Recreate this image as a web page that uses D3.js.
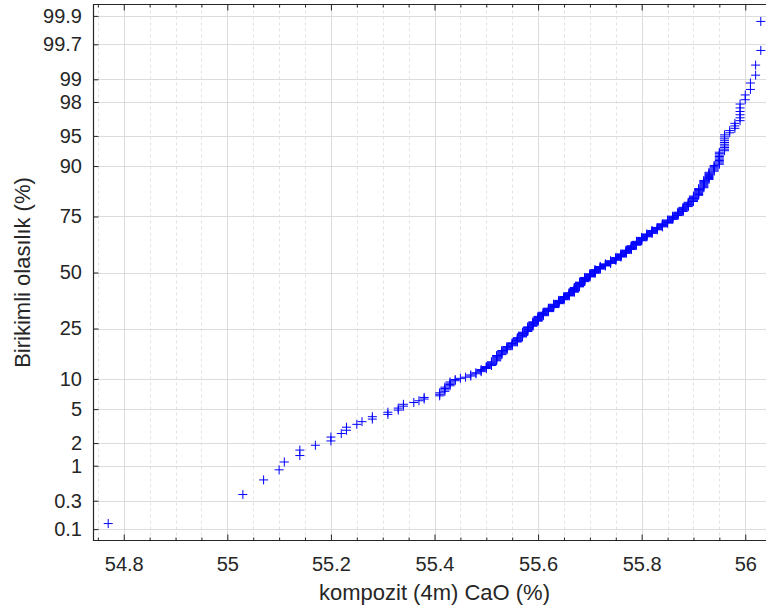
<!DOCTYPE html>
<html>
<head>
<meta charset="utf-8">
<script src="https://cdn.jsdelivr.net/npm/d3@7"></script>
<style>
  body { margin: 0; background: #fff; }
  svg { display: block; font-family: "Liberation Sans", Arial, Helvetica, sans-serif; }
</style>
</head>
<body>
<script>
// distinct CaO values (sorted) and how many samples have each value
var caoValues = [54.77, 55.03, 55.07, 55.10, 55.11, 55.14, 55.17, 55.20, 55.22, 55.23,
  55.25, 55.26, 55.28, 55.31, 55.33, 55.34, 55.36, 55.37, 55.38,
  55.41, 55.42, 55.43, 55.44, 55.45, 55.46, 55.47, 55.48, 55.49, 55.50,
  55.51, 55.52, 55.53, 55.54, 55.55, 55.56, 55.57, 55.58, 55.59, 55.60,
  55.61, 55.62, 55.63, 55.64, 55.65, 55.66, 55.67, 55.68, 55.69, 55.70,
  55.71, 55.72, 55.73, 55.74, 55.75, 55.76, 55.77, 55.78, 55.79, 55.80,
  55.81, 55.82, 55.83, 55.84, 55.85, 55.86, 55.87, 55.88, 55.89, 55.90,
  55.91, 55.92, 55.93, 55.94, 55.95, 55.96, 55.97, 55.98, 55.99, 56.00,
  56.01, 56.02, 56.03];
var caoCounts = [1, 1, 1, 1, 1, 2, 1, 2, 1, 2,
  1, 1, 2, 2, 2, 2, 1, 1, 2,
  3, 4, 4, 2, 1, 1, 2, 2, 3, 3,
  5, 7, 6, 5, 5, 7, 8, 8, 8, 9,
  7, 7, 7, 7, 7, 7, 10, 10, 9, 7,
  8, 6, 5, 6, 6, 7, 7, 8, 8, 7,
  6, 6, 5, 6, 6, 6, 6, 7, 7, 8,
  9, 9, 8, 6, 10, 10, 2, 3, 6, 2,
  2, 2, 2];

var xTickValues = [54.8, 55, 55.2, 55.4, 55.6, 55.8, 56];
var probTicks = [0.1, 0.3, 1, 2, 5, 10, 25, 50, 75, 90, 95, 98, 99, 99.7, 99.9];
var probLabels = ["0.1", "0.3", "1", "2", "5", "10", "25", "50", "75", "90", "95", "98", "99", "99.7", "99.9"];

var xLabel = "kompozit (4m) CaO (%)";
var yLabel = "Birikimli olasılık (%)";

var width = 766, height = 613;
var plotL = 93.5, plotT = 4.5, plotB = 540.5, plotR = 775.5;
var ink = "#262626";

// inverse normal cdf (Acklam)
function norminv(p) {
  var a = [-39.69683028665376, 220.9460984245205, -275.9285104469687, 138.3577518672690, -30.66479806614716, 2.506628277459239];
  var b = [-54.47609879822406, 161.5858368580409, -155.6989798598866, 66.80131188771972, -13.28068155288572];
  var c = [-0.007784894002430293, -0.3223964580411365, -2.400758277161838, -2.549732539343734, 4.374664141464968, 2.938163982698783];
  var d = [0.007784695709041462, 0.3224671290700398, 2.445134137142996, 3.754408661907416];
  var q, r;
  if (p < 0.02425) {
    q = Math.sqrt(-2 * Math.log(p));
    return (((((c[0]*q+c[1])*q+c[2])*q+c[3])*q+c[4])*q+c[5]) / ((((d[0]*q+d[1])*q+d[2])*q+d[3])*q+1);
  }
  if (p > 1 - 0.02425) {
    q = Math.sqrt(-2 * Math.log(1 - p));
    return -(((((c[0]*q+c[1])*q+c[2])*q+c[3])*q+c[4])*q+c[5]) / ((((d[0]*q+d[1])*q+d[2])*q+d[3])*q+1);
  }
  q = p - 0.5; r = q * q;
  return (((((a[0]*r+a[1])*r+a[2])*r+a[3])*r+a[4])*r+a[5])*q / (((((b[0]*r+b[1])*r+b[2])*r+b[3])*r+b[4])*r+1);
}

// expand to sorted sample and plotting positions
var sample = [];
caoValues.forEach(function(v, i) {
  for (var k = 0; k < caoCounts[i]; k++) sample.push(v);
});
var n = sample.length;
var points = sample.map(function(v, i) {
  return { x: v, z: norminv((i + 0.5) / n) };
});

var zLim = -norminv(0.25 / n);

var x = d3.scaleLinear().domain([54.7416, 56.0584]).range([plotL, plotR]);
var y = d3.scaleLinear().domain([-zLim, zLim]).range([plotB, plotT]);

var svg = d3.select("body").append("svg")
  .attr("width", width)
  .attr("height", height);

var xMinor = d3.range(54.75, 56.06, 0.05).map(function(v) { return +v.toFixed(2); })
  .filter(function(v) { return xTickValues.indexOf(v) < 0; });

// grid
var grid = svg.append("g");
grid.selectAll(".minor").data(xMinor).enter().append("line")
  .attr("x1", function(d) { return Math.round(x(d)) + 0.5; })
  .attr("x2", function(d) { return Math.round(x(d)) + 0.5; })
  .attr("y1", plotT).attr("y2", plotB)
  .attr("stroke", "#e2e2e2").attr("stroke-dasharray", "3,3");
grid.selectAll(".major").data(xTickValues).enter().append("line")
  .attr("x1", function(d) { return Math.round(x(d)) + 0.5; })
  .attr("x2", function(d) { return Math.round(x(d)) + 0.5; })
  .attr("y1", plotT).attr("y2", plotB)
  .attr("stroke", "#dcdcdc");
grid.selectAll(".hgrid").data(probTicks).enter().append("line")
  .attr("x1", plotL).attr("x2", plotR)
  .attr("y1", function(d) { return Math.round(y(norminv(d / 100))) + 0.5; })
  .attr("y2", function(d) { return Math.round(y(norminv(d / 100))) + 0.5; })
  .attr("stroke", "#dcdcdc");

// axes
var xAxis = d3.axisBottom(x).tickValues(xTickValues).tickSizeInner(-6).tickSizeOuter(0).tickPadding(16)
  .tickFormat(function(d) { return String(d); });
var gx = svg.append("g").attr("transform", "translate(0," + plotB + ")").call(xAxis);
var gxMinor = svg.append("g").attr("transform", "translate(0," + plotB + ")")
  .call(d3.axisBottom(x).tickValues(xMinor).tickSizeInner(-3).tickSizeOuter(0).tickFormat(""));
var gt = svg.append("g").attr("transform", "translate(0," + plotT + ")")
  .call(d3.axisTop(x).tickValues(xTickValues).tickSizeInner(-6).tickSizeOuter(0).tickFormat(""));
var gtMinor = svg.append("g").attr("transform", "translate(0," + plotT + ")")
  .call(d3.axisTop(x).tickValues(xMinor).tickSizeInner(-3).tickSizeOuter(0).tickFormat(""));

var yAxis = d3.axisLeft(y)
  .tickValues(probTicks.map(function(p) { return norminv(p / 100); }))
  .tickFormat(function(d, i) { return probLabels[i]; })
  .tickSizeInner(-5).tickSizeOuter(0).tickPadding(11.5);
var gy = svg.append("g").attr("transform", "translate(" + plotL + ",0)").call(yAxis);

[gx, gxMinor, gt, gtMinor, gy].forEach(function(g) {
  g.select(".domain").remove();
  g.selectAll("line").attr("stroke", ink);
  g.selectAll("text").attr("fill", ink).style("font-size", "20px")
    .style("font-family", '"Liberation Sans", Arial, Helvetica, sans-serif');
});

// box
svg.append("path")
  .attr("d", "M" + plotR + "," + plotT + "H" + plotL + "V" + plotB + "H" + plotR)
  .attr("fill", "none").attr("stroke", ink).attr("stroke-width", 1.2);

// data markers
svg.append("g").selectAll("path").data(points).enter().append("path")
  .attr("transform", function(d) { return "translate(" + x(d.x) + "," + y(d.z) + ")"; })
  .attr("d", "M-4.5,0H4.5M0,-4.5V4.5")
  .attr("stroke", "#0000ff").attr("stroke-width", 1).attr("fill", "none");

// labels
svg.append("text")
  .attr("x", (plotL + plotR) / 2).attr("y", 600)
  .attr("text-anchor", "middle").attr("fill", ink)
  .style("font-size", "22px")
  .text(xLabel);

svg.append("text")
  .attr("transform", "translate(30," + ((plotT + plotB) / 2) + ") rotate(-90)")
  .attr("text-anchor", "middle").attr("fill", ink)
  .style("font-size", "22px")
  .text(yLabel);
</script>
</body>
</html>
